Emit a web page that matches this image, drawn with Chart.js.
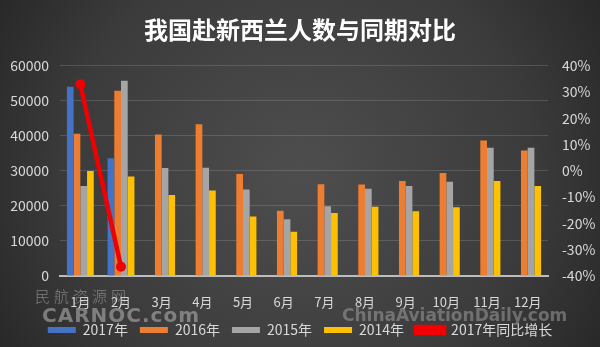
<!DOCTYPE html>
<html>
<head>
<meta charset="utf-8">
<script src="https://cdn.jsdelivr.net/npm/chart.js@4.4.1/dist/chart.umd.min.js"></script>
<style>
  html, body { margin: 0; padding: 0; background: #363636; }
  #wrap { width: 600px; height: 347px; }
</style>
</head>
<body>
<div id="wrap"><canvas id="c" width="600" height="347"></canvas></div>
<script>
// Monthly visitors from China to New Zealand, 2014–2017, and 2017 year-on-year change
const months = ['1月', '2月', '3月', '4月', '5月', '6月', '7月', '8月', '9月', '10月', '11月', '12月'];
const visitors2017 = [54000, 33600, null, null, null, null, null, null, null, null, null, null];
const visitors2016 = [40600, 52900, 40400, 43300, 29100, 18600, 26200, 26100, 27100, 29400, 38700, 35800];
const visitors2015 = [25700, 55700, 30800, 30900, 24700, 16200, 19900, 24900, 25700, 26900, 36600, 36600];
const visitors2014 = [30000, 28400, 23100, 24400, 17000, 12600, 18000, 19800, 18500, 19600, 27100, 25700];
const growth2017 = [33.0, -36.5, null, null, null, null, null, null, null, null, null, null];
const leftTicks = { min: 0, max: 60000, step: 10000 };
const rightTicks = { min: -40, max: 40, step: 10 };

const FONT = '"Noto Sans CJK SC", "Noto Sans", sans-serif';
const TEXT = '#d9d9d9';

// dark radial backdrop behind the whole chart
const backdrop = {
  id: 'backdrop',
  beforeDraw(chart) {
    const { ctx, width, height } = chart;
    const g = ctx.createRadialGradient(width / 2, height / 2, 10, width / 2, height / 2, 380);
    g.addColorStop(0, '#4d4d4d');
    g.addColorStop(0.6, '#3b3b3b');
    g.addColorStop(1, '#232323');
    ctx.save();
    ctx.fillStyle = g;
    ctx.fillRect(0, 0, width, height);
    ctx.restore();
  }
};

// source credit marks along the bottom
const credits = {
  id: 'credits',
  afterDraw(chart) {
    const { ctx } = chart;
    ctx.save();
    ctx.textBaseline = 'middle';
    ctx.textAlign = 'left';
    ctx.fillStyle = 'rgba(190,190,190,0.55)';
    ctx.font = '300 15px ' + FONT;
    ctx.letterSpacing = '4px';
    ctx.fillText('民航资源网', 35, 296);
    ctx.letterSpacing = '1px';
    ctx.fillStyle = 'rgba(165,165,165,0.65)';
    ctx.font = 'bold 20px "DejaVu Sans", sans-serif';
    ctx.fillText('CARNOC.com', 42, 317);
    ctx.letterSpacing = '0px';
    ctx.font = 'bold 17px "DejaVu Sans", sans-serif';
    ctx.fillStyle = 'rgba(165,165,165,0.5)';
    ctx.fillText('ChinaAviationDaily.com', 342, 317);
    ctx.restore();
  }
};

new Chart(document.getElementById('c'), {
  data: {
    labels: months,
    datasets: [
      { type: 'bar', label: '2017年', data: visitors2017, backgroundColor: '#4472c4', yAxisID: 'y', order: 1 },
      { type: 'bar', label: '2016年', data: visitors2016, backgroundColor: '#ed7d31', yAxisID: 'y', order: 1 },
      { type: 'bar', label: '2015年', data: visitors2015, backgroundColor: '#a5a5a5', yAxisID: 'y', order: 1 },
      { type: 'bar', label: '2014年', data: visitors2014, backgroundColor: '#ffc000', yAxisID: 'y', order: 1 },
      {
        type: 'line', label: '2017年同比增长', data: growth2017, yAxisID: 'y1', order: 0,
        borderColor: '#f00000', backgroundColor: '#f00000', borderWidth: 4.5,
        pointRadius: 5, pointBackgroundColor: '#f00000', pointBorderWidth: 0, tension: 0
      }
    ]
  },
  options: {
    responsive: false,
    animation: false,
    devicePixelRatio: 1,
    layout: { padding: { left: 0, right: 0, top: 0, bottom: 0 } },
    datasets: { bar: { categoryPercentage: 0.66, barPercentage: 1.0 } },
    plugins: {
      title: {
        display: true,
        text: '我国赴新西兰人数与同期对比',
        color: '#ffffff',
        font: { family: FONT, size: 24, weight: 'bold' },
        padding: { top: 15, bottom: 22 }
      },
      legend: {
        position: 'bottom',
        labels: {
          color: TEXT,
          font: { family: FONT, size: 14 },
          boxWidth: 28,
          boxHeight: 6,
          padding: 12,
          sort: (a, b) => a.datasetIndex - b.datasetIndex
        }
      },
      tooltip: { enabled: false }
    },
    scales: {
      x: {
        grid: { display: false },
        border: { color: '#bdbdbd', width: 2 },
        ticks: { color: TEXT, font: { family: FONT, size: 13 }, padding: 10, maxRotation: 0 },
        afterFit(scale) { scale.height = 35; }
      },
      y: {
        position: 'left',
        min: leftTicks.min, max: leftTicks.max,
        ticks: { stepSize: leftTicks.step, color: TEXT, font: { family: FONT, size: 14 }, padding: 11, callback: (v) => String(v) },
        grid: { color: (c) => c.tick.value === 0 ? 'rgba(0,0,0,0)' : 'rgba(255,255,255,0.14)', drawTicks: false },
        border: { display: false },
        afterFit(scale) { scale.width = 60; }
      },
      y1: {
        position: 'right',
        min: rightTicks.min, max: rightTicks.max,
        ticks: { stepSize: rightTicks.step, color: TEXT, font: { family: FONT, size: 14 }, padding: 14, callback: (v) => v + '%' },
        grid: { display: false, drawTicks: false },
        border: { display: false },
        afterFit(scale) { scale.width = 52; }
      }
    }
  },
  plugins: [backdrop, credits]
});
</script>
</body>
</html>
